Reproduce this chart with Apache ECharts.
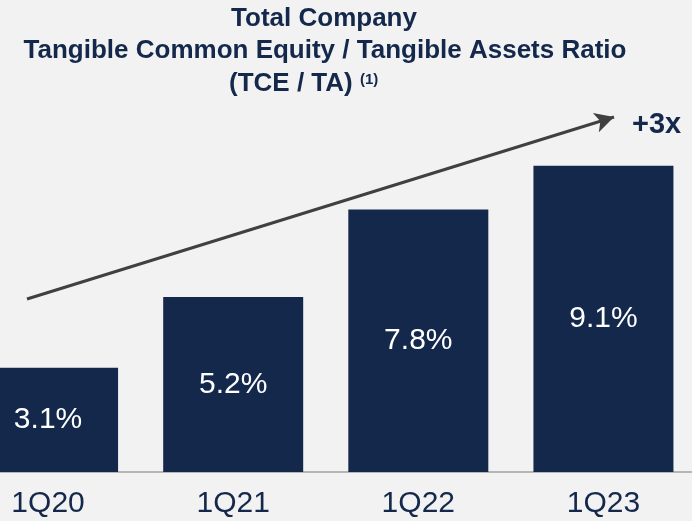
<!DOCTYPE html>
<html><head><meta charset="utf-8">
<script src="https://cdn.jsdelivr.net/npm/echarts@6/dist/echarts.min.js"></script>
<style>html,body{margin:0;padding:0;background:#f2f2f2;}#c{width:692px;height:521px;}</style>
</head><body><div id="c"></div>
<script>
const categories = ['1Q20', '1Q21', '1Q22', '1Q23'];
const tceRatio = [3.1, 5.2, 7.8, 9.1];
const growthLabel = '+3x';
const titleLines = ['Total Company', 'Tangible Common Equity / Tangible Assets Ratio', '(TCE / TA)'];
const footnoteMark = '(1)';

const navy = '#14284b';
const font = 'Liberation Sans, Arial';
const chart = echarts.init(document.getElementById('c'));
chart.setOption({
  backgroundColor: '#f2f2f2',
  animation: false,
  grid: { left: -44.5, right: -4, top: 68, bottom: 49, containLabel: false, outerBoundsMode: 'none' },
  xAxis: {
    type: 'category', data: categories,
    axisLine: { lineStyle: { color: '#a0a0a0', width: 1.5 } },
    axisTick: { show: false },
    axisLabel: { color: navy, fontSize: 30, fontFamily: font, margin: 17 }
  },
  yAxis: { type: 'value', min: 0, max: 12, show: false, splitLine: { show: false } },
  series: [{
    type: 'bar', data: tceRatio, barWidth: 140,
    itemStyle: { color: navy },
    label: { show: true, position: 'inside', color: '#ffffff', fontSize: 30, fontFamily: font,
      formatter: p => p.value.toFixed(1) + '%' },
    markLine: {
      silent: true, symbol: ['none', 'arrow'], symbolSize: [15, 19],
      label: { show: false },
      lineStyle: { color: '#404040', width: 3, type: 'solid' },
      data: [[{ x: 27, y: 299 }, { x: 614, y: 117 }]]
    }
  }],
  graphic: [
    { type: 'text', x: 324, y: 19, style: { text: titleLines[0], fill: navy, font: 'bold 26px ' + font, align: 'center', verticalAlign: 'middle' } },
    { type: 'text', x: 325, y: 51, style: { text: titleLines[1], fill: navy, font: 'bold 26px ' + font, align: 'center', verticalAlign: 'middle' } },
    { type: 'text', x: 229, y: 84, style: { text: titleLines[2], fill: navy, font: 'bold 26px ' + font, align: 'left', verticalAlign: 'middle' } },
    { type: 'text', x: 360, y: 80, style: { text: footnoteMark, fill: navy, font: 'bold 15px ' + font, align: 'left', verticalAlign: 'middle' } },
    { type: 'text', left: 632, top: 110, style: { text: growthLabel, fill: navy, font: 'bold 29px ' + font } }
  ]
});
</script></body></html>
